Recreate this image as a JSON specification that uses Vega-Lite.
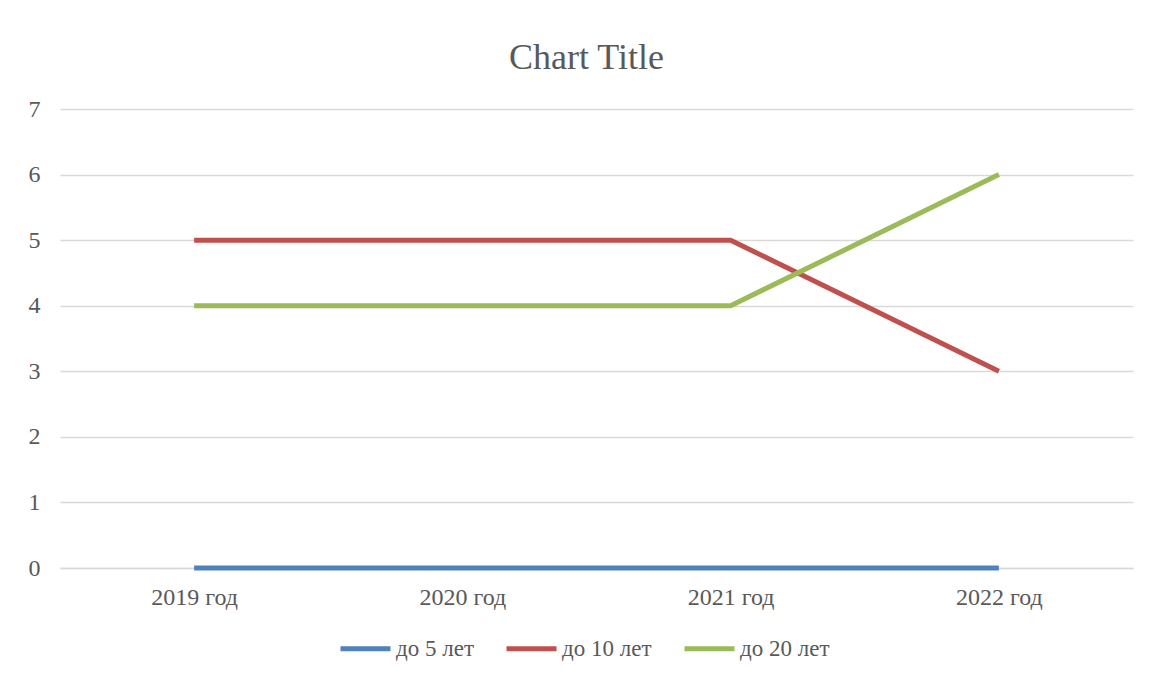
{
  "$schema": "https://vega.github.io/schema/vega-lite/v6.json",
  "autosize": "none",
  "width": 1073,
  "height": 459,
  "padding": {"left": 60, "top": 109, "right": 16, "bottom": 110},
  "background": "white",
  "config": {
    "view": {"stroke": null},
    "font": "Liberation Serif"
  },
  "title": {
    "text": "Chart Title",
    "fontSize": 36,
    "font": "Liberation Serif",
    "fontWeight": "normal",
    "color": "#595959",
    "anchor": "middle",
    "offset": 20,
    "dx": -10
  },
  "data": {
    "values": [
      {"year": "2019 год", "series": "до 5 лет", "value": 0},
      {"year": "2020 год", "series": "до 5 лет", "value": 0},
      {"year": "2021 год", "series": "до 5 лет", "value": 0},
      {"year": "2022 год", "series": "до 5 лет", "value": 0},
      {"year": "2019 год", "series": "до 10 лет", "value": 5},
      {"year": "2020 год", "series": "до 10 лет", "value": 5},
      {"year": "2021 год", "series": "до 10 лет", "value": 5},
      {"year": "2022 год", "series": "до 10 лет", "value": 3},
      {"year": "2019 год", "series": "до 20 лет", "value": 4},
      {"year": "2020 год", "series": "до 20 лет", "value": 4},
      {"year": "2021 год", "series": "до 20 лет", "value": 4},
      {"year": "2022 год", "series": "до 20 лет", "value": 6}
    ]
  },
  "mark": {"type": "line", "strokeWidth": 5},
  "encoding": {
    "x": {
      "field": "year",
      "type": "ordinal",
      "scale": {"type": "point", "padding": 0.5},
      "axis": {
        "title": null,
        "labelAngle": 0,
        "labelFontSize": 24,
        "labelColor": "#595959",
        "labelFont": "Liberation Serif",
        "labelPadding": 17,
        "ticks": false,
        "domain": true,
        "domainColor": "#d9d9d9",
        "domainWidth": 1.5,
        "grid": false
      }
    },
    "y": {
      "field": "value",
      "type": "quantitative",
      "scale": {"domain": [0, 7], "nice": false},
      "axis": {
        "title": null,
        "values": [0, 1, 2, 3, 4, 5, 6, 7],
        "labelFontSize": 24,
        "labelColor": "#595959",
        "labelFont": "Liberation Serif",
        "labelPadding": 20,
        "ticks": false,
        "domain": false,
        "grid": true,
        "gridColor": "#d9d9d9",
        "gridWidth": 1.5
      }
    },
    "color": {
      "field": "series",
      "type": "nominal",
      "scale": {
        "domain": ["до 5 лет", "до 10 лет", "до 20 лет"],
        "range": ["#4f81bd", "#c0504d", "#9bbb59"]
      },
      "legend": {
        "title": null,
        "orient": "none",
        "direction": "horizontal",
        "legendX": 278,
        "legendY": 512,
        "symbolType": "stroke",
        "symbolSize": 2500,
        "symbolStrokeWidth": 5,
        "labelFontSize": 23,
        "labelColor": "#595959",
        "labelFont": "Liberation Serif",
        "labelOffset": 3,
        "columnPadding": 22
      }
    }
  }
}
